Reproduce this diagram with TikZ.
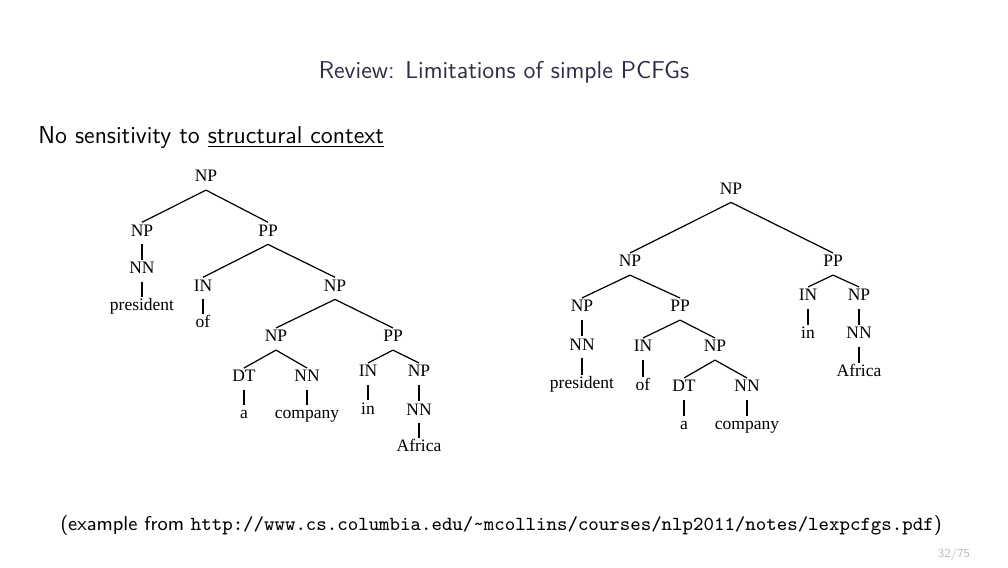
\documentclass[tikz,border=0pt]{standalone}
\usepackage{fontspec}
\newfontfamily\treefont{Liberation Serif}
\definecolor{titlegray}{RGB}{45,45,70}
\begin{document}
\begin{tikzpicture}[x=0.4516pt, y=-0.4516pt, line join=round,
		cat/.style={font=\treefont\fontsize{7.9}{9}\selectfont, anchor=base, inner sep=0.6pt, text height=5.4pt, text depth=3pt},
		branch/.style={line width=0.55pt},
		unary/.style={line width=1pt}]
	\useasboundingbox (0,0) rectangle (1008,567);
	% slide texts
	\node[anchor=base, text=titlegray, font=\sffamily\fontsize{11}{13}\selectfont] (title) at (504,78.3) {Review: Limitations of simple PCFGs};
	\node[anchor=base west, inner sep=0pt, font=\sffamily\fontsize{11}{13}\selectfont] (claim) at (38,143) {No sensitivity to \underline{structural context}};
	\node[anchor=base, font=\sffamily\fontsize{9}{11}\selectfont] (source) at (501,530) {(example from \texttt{http://www.cs.columbia.edu/\textasciitilde mcollins/courses/nlp2011/notes/lexpcfgs.pdf})};
	\node[anchor=base east, text=gray!55, font=\sffamily\fontsize{5.5}{6}\selectfont] (page) at (978,557) {32/75};
	% left tree
	\node[cat] (lNP) at (206,181.7) {NP};
	\node[cat] (lNPa) at (142,236) {NP};
	\node[cat] (lPP) at (268,236) {PP};
	\node[cat] (lNN) at (142,273.3) {NN};
	\node[cat] (lpres) at (142,310.7) {president};
	\node[cat] (lIN) at (203,291) {IN};
	\node[cat] (lof) at (203,327.7) {of};
	\node[cat] (lNPb) at (335,291) {NP};
	\node[cat] (lNPc) at (276,341.7) {NP};
	\node[cat] (lPPb) at (393,341.7) {PP};
	\node[cat] (lDT) at (244,381.7) {DT};
	\node[cat] (la) at (244,418.3) {a};
	\node[cat] (lNNb) at (307,381.7) {NN};
	\node[cat] (lcomp) at (307,418.3) {company};
	\node[cat] (lINb) at (368,376.7) {IN};
	\node[cat] (lin) at (368,414) {in};
	\node[cat] (lNPd) at (419,376.7) {NP};
	\node[cat] (lNNc) at (419,415) {NN};
	\node[cat] (lafr) at (419,451.7) {Africa};
	\foreach \p/\c in {lNP/lNPa, lNP/lPP, lPP/lIN, lPP/lNPb, lNPb/lNPc, lNPb/lPPb, lNPc/lDT, lNPc/lNNb, lPPb/lINb, lPPb/lNPd}
		\draw[branch] (\p.south)--(\c.north);
	\foreach \p/\c in {lNPa/lNN, lNN/lpres, lIN/lof, lDT/la, lNNb/lcomp, lINb/lin, lNPd/lNNc, lNNc/lafr}
		\draw[unary] (\p.south)--(\c.north);
	% right tree
	\node[cat] (rNP) at (731,194) {NP};
	\node[cat] (rNPa) at (630,266.7) {NP};
	\node[cat] (rPP) at (833,266.7) {PP};
	\node[cat] (rNPb) at (582,311.7) {NP};
	\node[cat] (rPPb) at (680,311.7) {PP};
	\node[cat] (rNN) at (582,350) {NN};
	\node[cat] (rpres) at (582,388.3) {president};
	\node[cat] (rIN) at (643,351.7) {IN};
	\node[cat] (rof) at (643,390.7) {of};
	\node[cat] (rNPc) at (715,351.7) {NP};
	\node[cat] (rDT) at (684,391.7) {DT};
	\node[cat] (ra) at (684,429.3) {a};
	\node[cat] (rNNb) at (747,391.7) {NN};
	\node[cat] (rcomp) at (747,429.3) {company};
	\node[cat] (rINb) at (808,300.7) {IN};
	\node[cat] (rin) at (808,338.3) {in};
	\node[cat] (rNPd) at (859,300.7) {NP};
	\node[cat] (rNNc) at (859,338.3) {NN};
	\node[cat] (rafr) at (859,376.7) {Africa};
	\foreach \p/\c in {rNP/rNPa, rNP/rPP, rNPa/rNPb, rNPa/rPPb, rPPb/rIN, rPPb/rNPc, rNPc/rDT, rNPc/rNNb, rPP/rINb, rPP/rNPd}
		\draw[branch] (\p.south)--(\c.north);
	\foreach \p/\c in {rNPb/rNN, rNN/rpres, rIN/rof, rDT/ra, rNNb/rcomp, rINb/rin, rNPd/rNNc, rNNc/rafr}
		\draw[unary] (\p.south)--(\c.north);
\end{tikzpicture}
\end{document}
